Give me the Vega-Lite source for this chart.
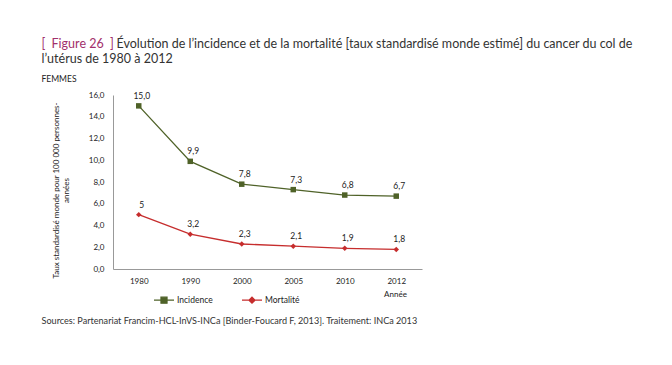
{
  "$schema": "https://vega.github.io/schema/vega-lite/v6.json",
  "width": 309,
  "height": 174,
  "autosize": {"type": "none"},
  "padding": {"left": 113, "top": 95, "right": 250, "bottom": 96},
  "background": "white",
  "config": {
    "font": "Lato",
    "view": {"stroke": null},
    "axis": {"grid": false, "labelFont": "Lato", "titleFont": "Lato"}
  },
  "data": {
    "values": [
      {"annee": "1980", "serie": "Incidence", "taux": 15.0, "label": "15,0"},
      {"annee": "1990", "serie": "Incidence", "taux": 9.9, "label": "9,9"},
      {"annee": "2000", "serie": "Incidence", "taux": 7.8, "label": "7,8"},
      {"annee": "2005", "serie": "Incidence", "taux": 7.3, "label": "7,3"},
      {"annee": "2010", "serie": "Incidence", "taux": 6.8, "label": "6,8"},
      {"annee": "2012", "serie": "Incidence", "taux": 6.7, "label": "6,7"},
      {"annee": "1980", "serie": "Mortalité", "taux": 5.0, "label": "5"},
      {"annee": "1990", "serie": "Mortalité", "taux": 3.2, "label": "3,2"},
      {"annee": "2000", "serie": "Mortalité", "taux": 2.3, "label": "2,3"},
      {"annee": "2005", "serie": "Mortalité", "taux": 2.1, "label": "2,1"},
      {"annee": "2010", "serie": "Mortalité", "taux": 1.9, "label": "1,9"},
      {"annee": "2012", "serie": "Mortalité", "taux": 1.8, "label": "1,8"}
    ]
  },
  "resolve": {"axis": {"x": "independent", "y": "independent"}},
  "layer": [
    {
      "mark": {"type": "line", "strokeWidth": 1.3},
      "encoding": {
        "x": {
          "field": "annee", "type": "ordinal",
          "scale": {"type": "point", "padding": 0.5},
          "axis": {
            "orient": "bottom", "labelAngle": 0, "ticks": false, "tickSize": 0,
            "domainColor": "#999999", "domainWidth": 1,
            "labelFontSize": 8, "labelColor": "#222222", "labelPadding": 8,
            "title": "Année", "titleFontSize": 8, "titleFontWeight": "normal", "titleColor": "#222222",
            "titleX": 282, "titleY": 27, "titleAlign": "center", "titleBaseline": "alphabetic"
          }
        },
        "y": {
          "field": "taux", "type": "quantitative",
          "scale": {"domain": [0, 16]},
          "axis": {
            "orient": "left", "values": [0, 2, 4, 6, 8, 10, 12, 14, 16],
            "labelExpr": "replace(format(datum.value, '.1f'), '.', ',')",
            "ticks": false, "tickSize": 0, "labelPadding": 9,
            "domainColor": "#999999", "domainWidth": 1,
            "labelFontSize": 8, "labelColor": "#222222",
            "title": ["Taux standardisé monde pour 100 000 personnes-", "années"],
            "titleFontSize": 8, "titleFontWeight": "normal", "titleColor": "#222222",
            "titleAngle": -90, "titleX": -61, "titleY": 95, "titleAlign": "center",
            "titleBaseline": "top", "titleLineHeight": 10
          }
        },
        "color": {
          "field": "serie", "type": "nominal",
          "scale": {"domain": ["Incidence", "Mortalité"], "range": ["#4f6228", "#c62d2d"]},
          "legend": {
            "orient": "none", "legendX": 40, "legendY": 194, "direction": "horizontal",
            "title": null, "padding": 0, "symbolSize": 400, "symbolStrokeWidth": 1.3,
            "symbolType": "M-1,0H1M-0.3,-0.3H0.3V0.3H-0.3Z",
            "columnPadding": 26, "labelFontSize": 8.5, "labelColor": "#222222", "labelOffset": 2,
            "encode": {
              "symbols": {
                "update": {
                  "shape": {"signal": "datum.value === 'Incidence' ? 'M-1,0H1M-0.3,-0.3H0.3V0.3H-0.3Z' : 'M-1,0H1M0,-0.3L0.3,0L0,0.3L-0.3,0Z'"},
                  "fill": {"signal": "scale('color', datum.value)"},
                  "stroke": {"signal": "scale('color', datum.value)"}
                }
              }
            }
          }
        }
      }
    },
    {
      "mark": {"type": "point", "filled": true, "opacity": 1},
      "encoding": {
        "x": {
          "field": "annee", "type": "ordinal",
          "axis": {
            "orient": "top", "labels": false, "ticks": false, "domain": false,
            "title": "[\u2002Figure 26\u2002]", "titleFontSize": 12.5, "titleFontWeight": "normal", "titleColor": "#a2306c",
            "titleX": -72, "titleY": -48, "titleAlign": "left", "titleBaseline": "alphabetic", "titleAngle": 0
          }
        },
        "y": {
          "field": "taux", "type": "quantitative",
          "axis": {
            "orient": "left", "labels": false, "ticks": false, "domain": false,
            "title": "Évolution de l’incidence et de la mortalité [taux standardisé monde estimé] du cancer du col de",
            "titleFontSize": 12.5, "titleFontWeight": "normal", "titleColor": "#333333",
            "titleX": 3, "titleY": -48, "titleAlign": "left", "titleBaseline": "alphabetic", "titleAngle": 0
          }
        },
        "color": {"field": "serie", "type": "nominal", "legend": null},
        "shape": {
          "condition": {"test": "datum.serie === 'Incidence'", "value": "square"},
          "value": "diamond"
        },
        "size": {"value": 30}
      }
    },
    {
      "transform": [{"filter": "datum.serie === 'Incidence'"}],
      "mark": {"type": "text", "dy": -10, "dx": 3, "fontSize": 8.5, "color": "#222222"},
      "encoding": {
        "x": {
          "field": "annee", "type": "ordinal",
          "axis": {
            "orient": "top", "labels": false, "ticks": false, "domain": false,
            "title": "l’utérus de 1980 à 2012", "titleFontSize": 12.5, "titleFontWeight": "normal", "titleColor": "#333333",
            "titleX": -72, "titleY": -33, "titleAlign": "left", "titleBaseline": "alphabetic", "titleAngle": 0
          }
        },
        "y": {
          "field": "taux", "type": "quantitative",
          "axis": {
            "orient": "left", "labels": false, "ticks": false, "domain": false,
            "title": "FEMMES", "titleFontSize": 8.5, "titleFontWeight": "normal", "titleColor": "#222222",
            "titleX": -72, "titleY": -14, "titleAlign": "left", "titleBaseline": "alphabetic", "titleAngle": 0
          }
        },
        "text": {"field": "label", "type": "nominal"}
      }
    },
    {
      "transform": [{"filter": "datum.serie === 'Mortalité'"}],
      "mark": {"type": "text", "dy": -10, "dx": 3, "fontSize": 8.5, "color": "#222222"},
      "encoding": {
        "x": {
          "field": "annee", "type": "ordinal",
          "axis": {
            "orient": "bottom", "labels": false, "ticks": false, "domain": false,
            "title": "Sources: Partenariat Francim-HCL-InVS-INCa [Binder-Foucard F, 2013]. Traitement: INCa 2013",
            "titleFontSize": 9.1, "titleFontWeight": "normal", "titleColor": "#333333",
            "titleX": -72, "titleY": 54, "titleAlign": "left", "titleBaseline": "alphabetic", "titleAngle": 0
          }
        },
        "y": {
          "field": "taux", "type": "quantitative",
          "axis": null
        },
        "text": {"field": "label", "type": "nominal"}
      }
    }
  ]
}
